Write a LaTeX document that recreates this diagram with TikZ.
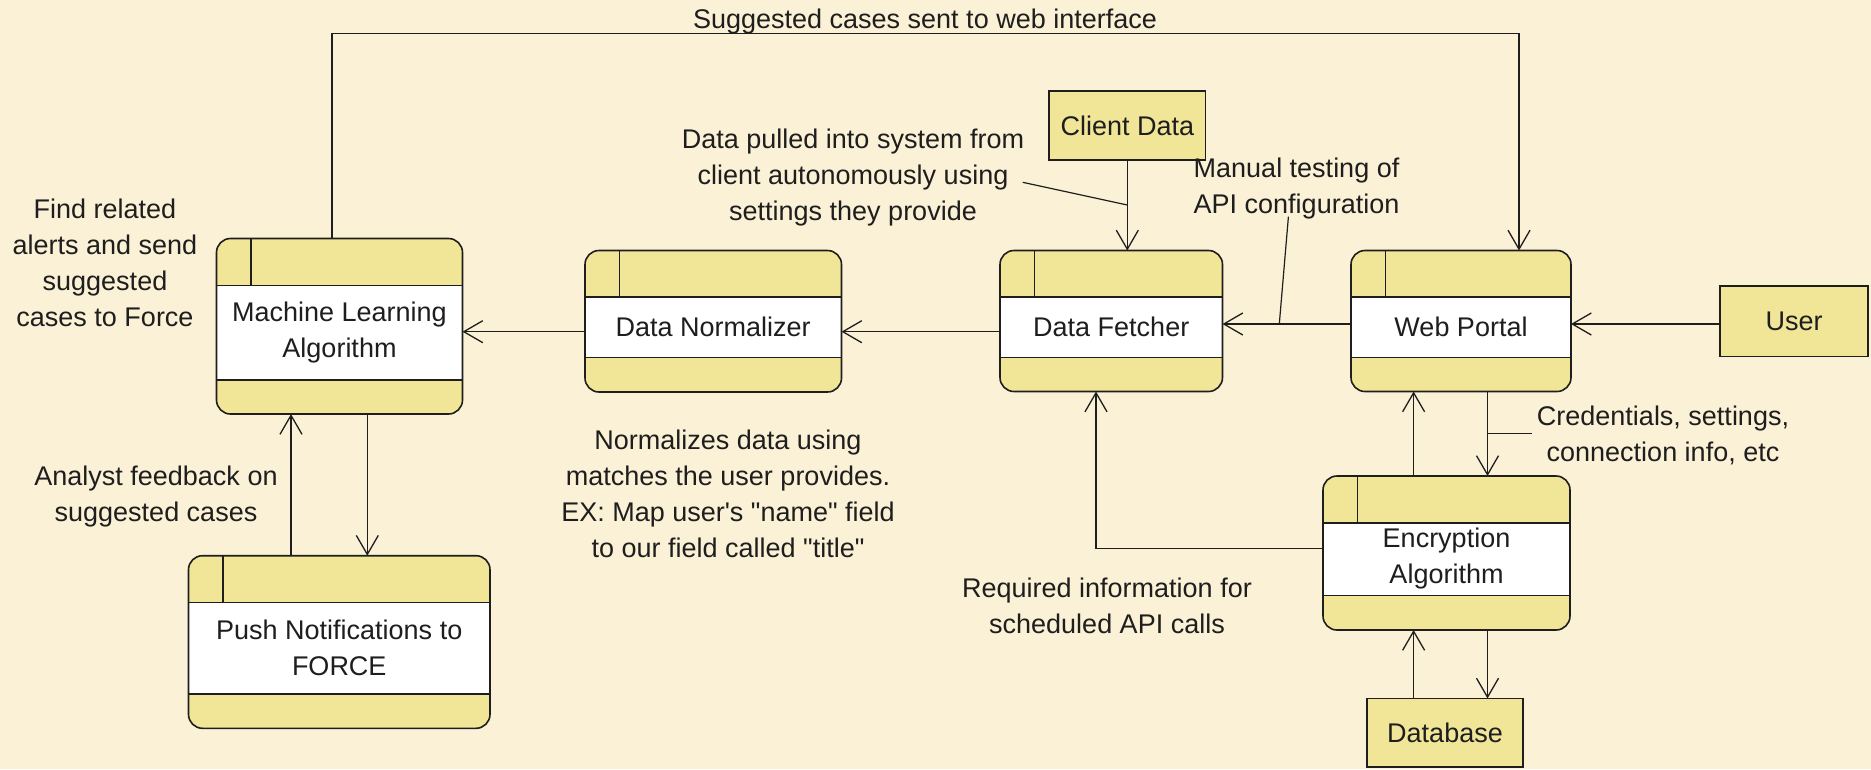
\documentclass[tikz,border=0pt]{standalone}
\usepackage{fontspec}
\setmainfont{Liberation Sans}
\usetikzlibrary{arrows.meta,calc}
\definecolor{bg}{RGB}{251,241,214}
\definecolor{boxfill}{RGB}{241,229,152}
\definecolor{ink}{RGB}{30,30,30}
\tikzset{
  pbox/.style={fill=boxfill, rounded corners=14pt, inner sep=0pt, outer sep=0pt, draw=none},
  pline/.style={draw=ink, line width=1.6pt},
  flow/.style={draw=ink, line width=1.3pt, -{Straight Barb[length=19pt,width=22pt,line width=1.3pt]}},
  lead/.style={draw=ink, line width=1.2pt},
  lbl/.style={align=center, inner sep=0pt, text=ink},
  sbox/.style={draw=ink, fill=boxfill, line width=1.6pt, inner sep=0pt, outer sep=0pt, text=ink},
}
\newcommand\pbx[8]{%
  \node[pbox, minimum width={(#4-#2)*1pt}, minimum height={(#5-#3)*1pt}] (#1) at ({(#2+#4)/2},{(#3+#5)/2}) {};
  \fill[white] (#2,#6) rectangle (#4,#7);
  \draw[pline] (#2,#6) -- (#4,#6) (#2,#7) -- (#4,#7) ({#2+34.5},#3) -- ({#2+34.5},#6);
  \draw[pline, rounded corners=14pt] (#1.south west) rectangle (#1.north east);
  \node[lbl] (#1-t) at ({(#2+#4)/2},{(#6+#7)/2}) {#8};
}
\begin{document}
\begin{tikzpicture}[x=1pt, y=-1pt, font=\fontsize{27}{36}\selectfont]
\useasboundingbox (0,0) rectangle (1871,769);
\fill[bg] (0,0) rectangle (1871,769);

% process boxes
\pbx{ml}{216.5}{238.5}{462.5}{414}{285.5}{380}{Machine Learning\\Algorithm}
\pbx{dn}{585}{250.5}{841.5}{392}{297}{357.3}{Data Normalizer}
\pbx{df}{1000}{250.5}{1222.5}{391.5}{297}{357.3}{Data Fetcher}
\pbx{wp}{1351}{250.5}{1571}{391.5}{297}{357.3}{Web Portal}
\pbx{enc}{1323}{476}{1570}{630}{522.7}{595.3}{Encryption\\Algorithm}
\pbx{push}{188.5}{555.7}{490}{728.3}{602.3}{694}{Push Notifications to\\FORCE}

% external entities
\node[sbox, minimum width=156.5pt, minimum height=69.3pt] (cd) at (1127.3,125.35) {Client Data};
\node[sbox, minimum width=148pt, minimum height=70.5pt] (user) at (1794,321.25) {User};
\node[sbox, minimum width=156pt, minimum height=68.5pt] (db) at (1445,732.75) {Database};

% helper coordinates
\coordinate (t1) at (332,33.3);
\coordinate (t2) at (1519,33.3);
\coordinate (y324) at (0,324);
\coordinate (y332) at (0,331.7);
\coordinate (xa) at (1413.6,0);
\coordinate (xb) at (1487.5,0);
\coordinate (xc) at (1096,548.3);
\coordinate (xu) at (291,0);
\coordinate (xd) at (367.3,0);

% connectors
\draw[flow] (ml.north -| t1) -- (t1) -- (t2) -- (wp.north -| t2);
\draw[flow] (cd.south) -- (df.north -| cd.south);
\draw[flow] (wp.west |- y324) -- (df.east |- y324);
\draw[flow] (user.west |- y324) -- (wp.east |- y324);
\draw[flow] (df.west |- y332) -- (dn.east |- y332);
\draw[flow] (dn.west |- y332) -- (ml.east |- y332);
\draw[flow] (wp.south -| xb) -- (enc.north -| xb);
\draw[flow] (enc.north -| xa) -- (wp.south -| xa);
\draw[flow] (enc.west |- xc) -- (xc) -- (df.south -| xc);
\draw[flow] (db.north -| xa) -- (enc.south -| xa);
\draw[flow] (enc.south -| xb) -- (db.north -| xb);
\draw[flow] (ml.south -| xd) -- (push.north -| xd);
\draw[flow] (push.north -| xu) -- (ml.south -| xu);

% leader lines
\coordinate (p1) at (1022.7,182.3);
\coordinate (p2) at (1127.3,205);
\coordinate (m1) at (1288.4,216.7);
\coordinate (m2) at (1279.3,324);
\coordinate (c1) at (1487.5,433.3);
\coordinate (c2) at (1532,433.3);
\draw[lead] (p1) -- (p2);
\draw[lead] (m1) -- (m2);
\draw[lead] (c1) -- (c2);

% labels
\node[lbl] (ltop) at (925,21.5) {Suggested cases sent to web interface};
\node[lbl] (lfind) at (105,262.5) {Find related\\alerts and send\\suggested\\cases to Force};
\node[lbl] (lpull) at (853,177.5) {Data pulled into system from\\client autonomously using\\settings they provide};
\node[lbl, align=left, anchor=west] (lman) at (1193.5,188.7) {Manual testing of\\API configuration};
\node[lbl] (lnorm) at (728,494) {Normalizes data using\\matches the user provides.\\EX: Map user\textquotesingle s \textquotedbl name\textquotedbl{} field\\to our field called \textquotedbl title\textquotedbl};
\node[lbl] (lana) at (156,496.3) {Analyst feedback on\\suggested cases};
\node[lbl] (lreq) at (1107,605.8) {Required information for\\scheduled API calls};
\node[lbl] (lcred) at (1663,435.3) {Credentials, settings,\\connection info, etc};
\end{tikzpicture}
\end{document}
